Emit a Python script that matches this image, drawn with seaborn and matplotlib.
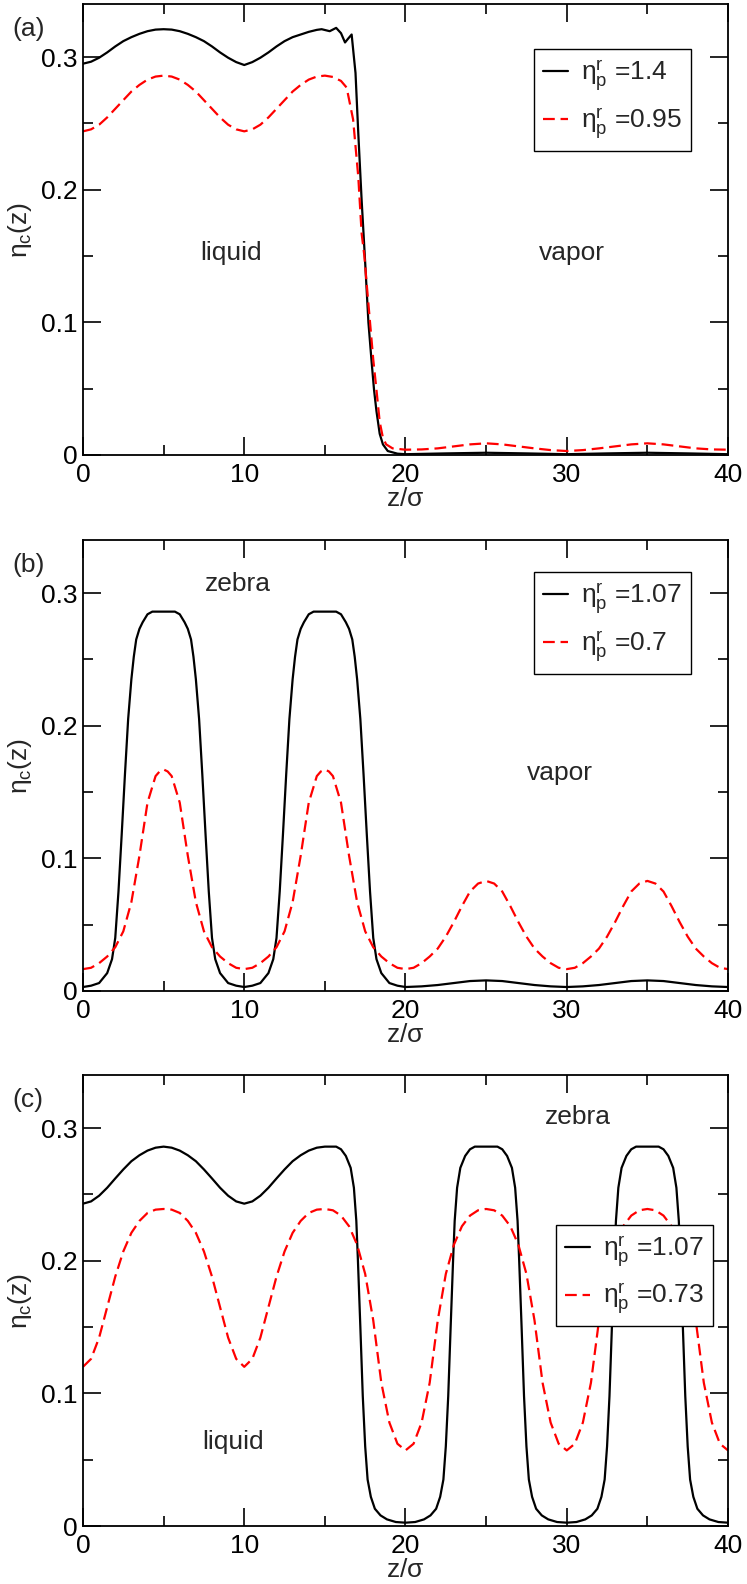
import numpy as np
import pandas as pd
import matplotlib
matplotlib.use("Agg")
import matplotlib.pyplot as plt
from matplotlib.ticker import MultipleLocator
import seaborn as sns

# panel (a): liquid / vapor
a_hi_z = [0, 0.5, 1, 1.5, 2, 2.5, 3, 3.5, 4, 4.5, 5, 5.5, 6, 6.5, 7, 7.5, 8, 8.5, 9, 9.5, 10,
          10.5, 11, 11.5, 12, 12.5, 13, 13.5, 14, 14.5, 14.8, 15.3, 15.7, 16.0,
          16.25, 16.45, 16.66, 16.8, 16.9, 17.07, 17.28, 17.49, 17.7, 17.9, 18.05, 18.2, 18.4,
          18.6, 18.9, 19.5, 20, 22.5, 25, 27.5, 30, 32.5, 35, 37.5, 40]
a_hi = [0.295, 0.2965, 0.2995, 0.3035, 0.308, 0.312, 0.315, 0.3175, 0.3195, 0.3207, 0.321,
        0.3207, 0.3195, 0.3175, 0.315, 0.312, 0.308, 0.3035, 0.2995, 0.2962, 0.294,
        0.2962, 0.2995, 0.3035, 0.308, 0.312, 0.315, 0.317, 0.319, 0.3205, 0.321, 0.3195,
        0.322, 0.318, 0.311, 0.314, 0.317,
        0.300, 0.288, 0.243, 0.192, 0.147, 0.100, 0.070, 0.049, 0.033, 0.016, 0.008, 0.003,
        0.001, 0.0006, 0.0012, 0.0017, 0.0012, 0.0006, 0.0012, 0.0017, 0.0012, 0.0006]
a_lo_z = [0, 0.5, 1, 1.5, 2, 2.5, 3, 3.5, 4, 4.5, 5, 5.5, 6, 6.5, 7, 7.5, 8, 8.5, 9, 9.5, 10,
          10.5, 11, 11.5, 12, 12.5, 13, 13.5, 14, 14.5, 15, 15.5, 16, 16.35, 16.75, 17.07,
          17.28, 17.45, 17.6, 17.8, 18.0, 18.2, 18.4, 18.6, 18.8, 19.2, 20, 21, 22, 23, 24, 25,
          26, 27, 28, 29, 30, 31, 32, 33, 34, 35, 36, 37, 38, 39, 40]
a_lo = [0.244, 0.2455, 0.249, 0.2545, 0.261, 0.2675, 0.274, 0.279, 0.283, 0.2853, 0.286,
        0.2853, 0.283, 0.279, 0.274, 0.2675, 0.261, 0.2545, 0.249, 0.2455, 0.244,
        0.2455, 0.249, 0.2545, 0.261, 0.2675, 0.274, 0.279, 0.283, 0.2853, 0.286, 0.285,
        0.282, 0.277, 0.253, 0.210, 0.167, 0.150, 0.128,
        0.100, 0.072, 0.049, 0.025, 0.013, 0.008, 0.005, 0.004, 0.0042, 0.005, 0.0065, 0.008,
        0.0088, 0.008, 0.0065, 0.005, 0.0037, 0.003, 0.0037, 0.005, 0.0065, 0.008, 0.0088,
        0.008, 0.0065, 0.005, 0.0042, 0.004]

# panel (b): zebra / vapor
b_hi_z = [0, 0.5, 1.0, 1.5, 1.8, 2.0, 2.2, 2.4, 2.6, 2.8, 3.0, 3.15, 3.3, 3.5, 3.7, 4.0, 4.3,
          5.7, 6.0, 6.3, 6.5, 6.7, 6.85, 7.0, 7.2, 7.4, 7.6, 7.8, 8.0, 8.2, 8.5, 9.0, 9.5, 10,
          10.5, 11.0, 11.5, 11.8, 12.0, 12.2, 12.4, 12.6, 12.8, 13.0, 13.15, 13.3, 13.5, 13.7,
          14.0, 14.3, 15.7, 16.0, 16.3, 16.5, 16.7, 16.85, 17.0, 17.2, 17.4, 17.6, 17.8, 18.0,
          18.2, 18.5, 19.0, 19.5, 20, 21, 22, 23, 24, 25, 26, 27, 28, 29, 30, 31, 32, 33, 34, 35,
          36, 37, 38, 39, 40]
b_hi = [0.003, 0.004, 0.006, 0.0135, 0.024, 0.040, 0.075, 0.118, 0.163, 0.205, 0.235, 0.252,
        0.265, 0.273, 0.278, 0.284, 0.286, 0.286, 0.284, 0.278, 0.273, 0.265, 0.252, 0.235,
        0.205, 0.163, 0.118, 0.075, 0.040, 0.024, 0.0135, 0.006, 0.004, 0.003, 0.004, 0.006,
        0.0135, 0.024, 0.040, 0.075, 0.118, 0.163, 0.205, 0.235, 0.252, 0.265, 0.273, 0.278,
        0.284, 0.286, 0.286, 0.284, 0.278, 0.273, 0.265, 0.252, 0.235, 0.205, 0.163, 0.118,
        0.075, 0.040, 0.024, 0.0135, 0.006, 0.004, 0.003, 0.0035, 0.0045, 0.006, 0.0075, 0.008,
        0.0075, 0.006, 0.0045, 0.0035, 0.003, 0.0035, 0.0045, 0.006, 0.0075, 0.008, 0.0075,
        0.006, 0.0045, 0.0035, 0.003]
b_lo_z = [0, 0.5, 1, 1.5, 2, 2.5, 3, 3.5, 4, 4.5, 4.75, 5, 5.25, 5.5, 6, 6.5, 7, 7.5, 8, 8.5,
          9, 9.5, 10, 10.5, 11, 11.5, 12, 12.5, 13, 13.5, 14, 14.5, 14.75, 15, 15.25, 15.5, 16,
          16.5, 17, 17.5, 18, 18.5, 19, 19.5, 20, 20.5, 21, 21.5, 22, 22.5, 23, 23.5, 24, 24.5,
          25, 25.5, 26, 26.5, 27, 27.5, 28, 28.5, 29, 29.5, 30, 30.5, 31, 31.5, 32, 32.5, 33,
          33.5, 34, 34.5, 35, 35.5, 36, 36.5, 37, 37.5, 38, 38.5, 39, 39.5, 40]
b_lo = [0.0165, 0.0175, 0.021, 0.026, 0.033, 0.045, 0.067, 0.102, 0.142, 0.162, 0.1655, 0.167,
        0.1655, 0.162, 0.142, 0.102, 0.067, 0.045, 0.033, 0.026, 0.021, 0.0175, 0.0165, 0.0175,
        0.021, 0.026, 0.033, 0.045, 0.067, 0.102, 0.142, 0.162, 0.1655, 0.167, 0.1655, 0.162,
        0.142, 0.102, 0.067, 0.045, 0.033, 0.026, 0.021, 0.0175, 0.0165, 0.0175, 0.021, 0.026,
        0.032, 0.041, 0.052, 0.064, 0.075, 0.081, 0.083, 0.081, 0.075, 0.064, 0.052, 0.041,
        0.032, 0.026, 0.021, 0.0175, 0.0165, 0.0175, 0.021, 0.026, 0.032, 0.041, 0.052, 0.064,
        0.075, 0.081, 0.083, 0.081, 0.075, 0.064, 0.052, 0.041, 0.032, 0.026, 0.021, 0.0175,
        0.0165]

# panel (c): liquid / zebra
c_hi_z = [0, 0.5, 1, 1.5, 2, 2.5, 3, 3.5, 4, 4.5, 5, 5.5, 6, 6.5, 7, 7.5, 8, 8.5, 9, 9.5, 10,
          10.5, 11, 11.5, 12, 12.5, 13, 13.5, 14, 14.5, 15, 15.7, 16.0, 16.3, 16.6,
          16.8, 16.95, 17.05, 17.2, 17.35, 17.5, 17.65, 17.85, 18.1, 18.45, 18.85, 19.4, 20,
          20.6, 21.15, 21.55, 21.9, 22.15, 22.35, 22.5, 22.65, 22.8, 22.95, 23.05, 23.2, 23.4,
          23.7, 24.0, 24.3, 25.7, 26.0, 26.3, 26.6, 26.8, 26.95, 27.05, 27.2, 27.35, 27.5, 27.65,
          27.85, 28.1, 28.45, 28.85, 29.4, 30, 30.6, 31.15, 31.55, 31.9, 32.15, 32.35, 32.5,
          32.65, 32.8, 32.95, 33.05, 33.2, 33.4, 33.7, 34.0, 34.3, 35.7, 36.0, 36.3, 36.6, 36.8,
          36.95, 37.05, 37.2, 37.35, 37.5, 37.65, 37.85, 38.1, 38.45, 38.85, 39.4, 40]
c_hi = [0.243, 0.2447, 0.249, 0.255, 0.262, 0.2688, 0.275, 0.2795, 0.283, 0.2852, 0.286,
        0.2852, 0.283, 0.2795, 0.275, 0.2688, 0.262, 0.255, 0.249, 0.2447, 0.243,
        0.2447, 0.249, 0.255, 0.262, 0.2688, 0.275, 0.2795, 0.283, 0.2852, 0.286,
        0.286, 0.284, 0.279, 0.270, 0.255, 0.230, 0.200,
        0.150, 0.098, 0.060, 0.035, 0.022, 0.013, 0.008, 0.005, 0.003, 0.0025, 0.003, 0.005,
        0.008, 0.013, 0.022, 0.035, 0.060, 0.098, 0.150, 0.200, 0.230, 0.255, 0.270, 0.279,
        0.284, 0.286, 0.286, 0.284, 0.279, 0.270, 0.255, 0.230, 0.200, 0.150, 0.098, 0.060,
        0.035, 0.022, 0.013, 0.008, 0.005, 0.003, 0.0025, 0.003, 0.005, 0.008, 0.013, 0.022,
        0.035, 0.060, 0.098, 0.150, 0.200, 0.230, 0.255, 0.270, 0.279, 0.284, 0.286, 0.286,
        0.284, 0.279, 0.270, 0.255, 0.230, 0.200, 0.150, 0.098, 0.060, 0.035, 0.022, 0.013,
        0.008, 0.005, 0.003, 0.0025]
c_lo_z = [0, 0.5, 1, 1.5, 2, 2.5, 3, 3.5, 4, 4.5, 5, 5.5, 6, 6.5, 7, 7.5, 8, 8.5, 9, 9.5, 10,
          10.5, 11, 11.5, 12, 12.5, 13, 13.5, 14, 14.5, 15, 15.5, 16, 16.5, 17, 17.5, 18, 18.5,
          19, 19.5, 20, 20.5, 21, 21.5, 22, 22.5, 23, 23.5, 24, 24.5, 25, 25.5, 26, 26.5, 27,
          27.5, 28, 28.5, 29, 29.5, 30, 30.5, 31, 31.5, 32, 32.5, 33, 33.5, 34, 34.5, 35, 35.5,
          36, 36.5, 37, 37.5, 38, 38.5, 39, 39.5, 40]
c_lo = [0.120, 0.126, 0.142, 0.165, 0.188, 0.207, 0.221, 0.230, 0.236, 0.2385, 0.239, 0.2385,
        0.236, 0.230, 0.221, 0.207, 0.188, 0.165, 0.142, 0.126, 0.120, 0.126, 0.142, 0.165,
        0.188, 0.207, 0.221, 0.230, 0.236, 0.2385, 0.239, 0.238, 0.234, 0.226, 0.212, 0.190,
        0.155, 0.108, 0.078, 0.062, 0.057, 0.062, 0.078, 0.108, 0.155, 0.190, 0.212, 0.226,
        0.234, 0.238, 0.239, 0.238, 0.234, 0.226, 0.212, 0.190, 0.155, 0.108, 0.078, 0.062,
        0.057, 0.062, 0.078, 0.108, 0.155, 0.190, 0.212, 0.226, 0.234, 0.238, 0.239, 0.238,
        0.234, 0.226, 0.212, 0.190, 0.155, 0.108, 0.078, 0.062, 0.057]

panel_tags = ["(a)", "(b)", "(c)"]
hi_labels = [r"$\eta_p^r$ =1.4", r"$\eta_p^r$ =1.07", r"$\eta_p^r$ =1.07"]
lo_labels = [r"$\eta_p^r$ =0.95", r"$\eta_p^r$ =0.7", r"$\eta_p^r$ =0.73"]
y_ticks = [0, 0.1, 0.2, 0.3]
y_ticklabels = ["0", "0.1", "0.2", "0.3"]
x_ticks = [0, 10, 20, 30, 40]

sns.set_style("ticks")
plt.rcParams["font.family"] = ["Liberation Sans", "DejaVu Sans"]
plt.rcParams["mathtext.fontset"] = "custom"
plt.rcParams["mathtext.rm"] = "Liberation Sans"
plt.rcParams["mathtext.it"] = "Liberation Sans"
plt.rcParams["mathtext.default"] = "regular"

FS = 19
fig = plt.figure(figsize=(7.47, 15.84), dpi=100)
bottoms = [1 - 455 / 1584, 1 - 991 / 1584, 1 - 1526 / 1584]
axes = [fig.add_axes([83 / 747, b, 645 / 747, 451 / 1584]) for b in bottoms]

curves = [(a_hi_z, a_hi, a_lo_z, a_lo), (b_hi_z, b_hi, b_lo_z, b_lo), (c_hi_z, c_hi, c_lo_z, c_lo)]
leg_anchor = [(0.699, 0.900), (0.699, 0.929), (0.733, 0.668)]

for i, ax in enumerate(axes):
    hz, hv, lz, lv = curves[i]
    df_hi = pd.DataFrame({"z": hz, "eta": hv})
    df_lo = pd.DataFrame({"z": lz, "eta": lv})
    sns.lineplot(data=df_hi, x="z", y="eta", ax=ax, color="black", lw=1.6,
                 sort=False, estimator=None, label=hi_labels[i])
    sns.lineplot(data=df_lo, x="z", y="eta", ax=ax, color="#ff0000", lw=1.6,
                 linestyle=(0, (5.3, 2.6)), sort=False, estimator=None, label=lo_labels[i])
    ax.set_xlim(0, 40)
    ax.set_ylim(0, 0.34)
    ax.set_xticks(x_ticks)
    ax.set_yticks(y_ticks)
    ax.set_yticklabels(y_ticklabels)
    ax.xaxis.set_minor_locator(MultipleLocator(5))
    ax.yaxis.set_minor_locator(MultipleLocator(0.05))
    ax.tick_params(which="both", direction="in", top=True, right=True, width=1.2,
                   labelsize=FS, colors="black")
    ax.tick_params(which="major", length=13)
    ax.tick_params(which="minor", length=7)
    ax.tick_params(axis="x", pad=6)
    ax.tick_params(axis="y", pad=4)
    for s in ax.spines.values():
        s.set_linewidth(1.3)
        s.set_color("black")
    ax.set_xlabel(r"z/$\sigma$", fontsize=FS, labelpad=0)
    ax.set_ylabel(r"$\eta_c$(z)", fontsize=FS, labelpad=5)
    ax.text(-0.085, 0.945, panel_tags[i], transform=ax.transAxes, fontsize=FS,
            ha="center", va="center")
    leg = ax.legend(loc="upper left", bbox_to_anchor=leg_anchor[i], borderaxespad=0,
                    fontsize=FS, frameon=True, fancybox=False, framealpha=1,
                    edgecolor="black", handlelength=0.95, handletextpad=0.5,
                    labelspacing=0.45, borderpad=0.35)
    leg.get_frame().set_linewidth(1.0)

axes[0].text(9.2, 0.152, "liquid", fontsize=FS, ha="center", va="center")
axes[0].text(30.3, 0.152, "vapor", fontsize=FS, ha="center", va="center")
axes[1].text(9.6, 0.307, "zebra", fontsize=FS, ha="center", va="center")
axes[1].text(29.6, 0.164, "vapor", fontsize=FS, ha="center", va="center")
axes[2].text(30.7, 0.308, "zebra", fontsize=FS, ha="center", va="center")
axes[2].text(9.3, 0.063, "liquid", fontsize=FS, ha="center", va="center")

fig.savefig("out.png", dpi=100)
plt.close(fig)
